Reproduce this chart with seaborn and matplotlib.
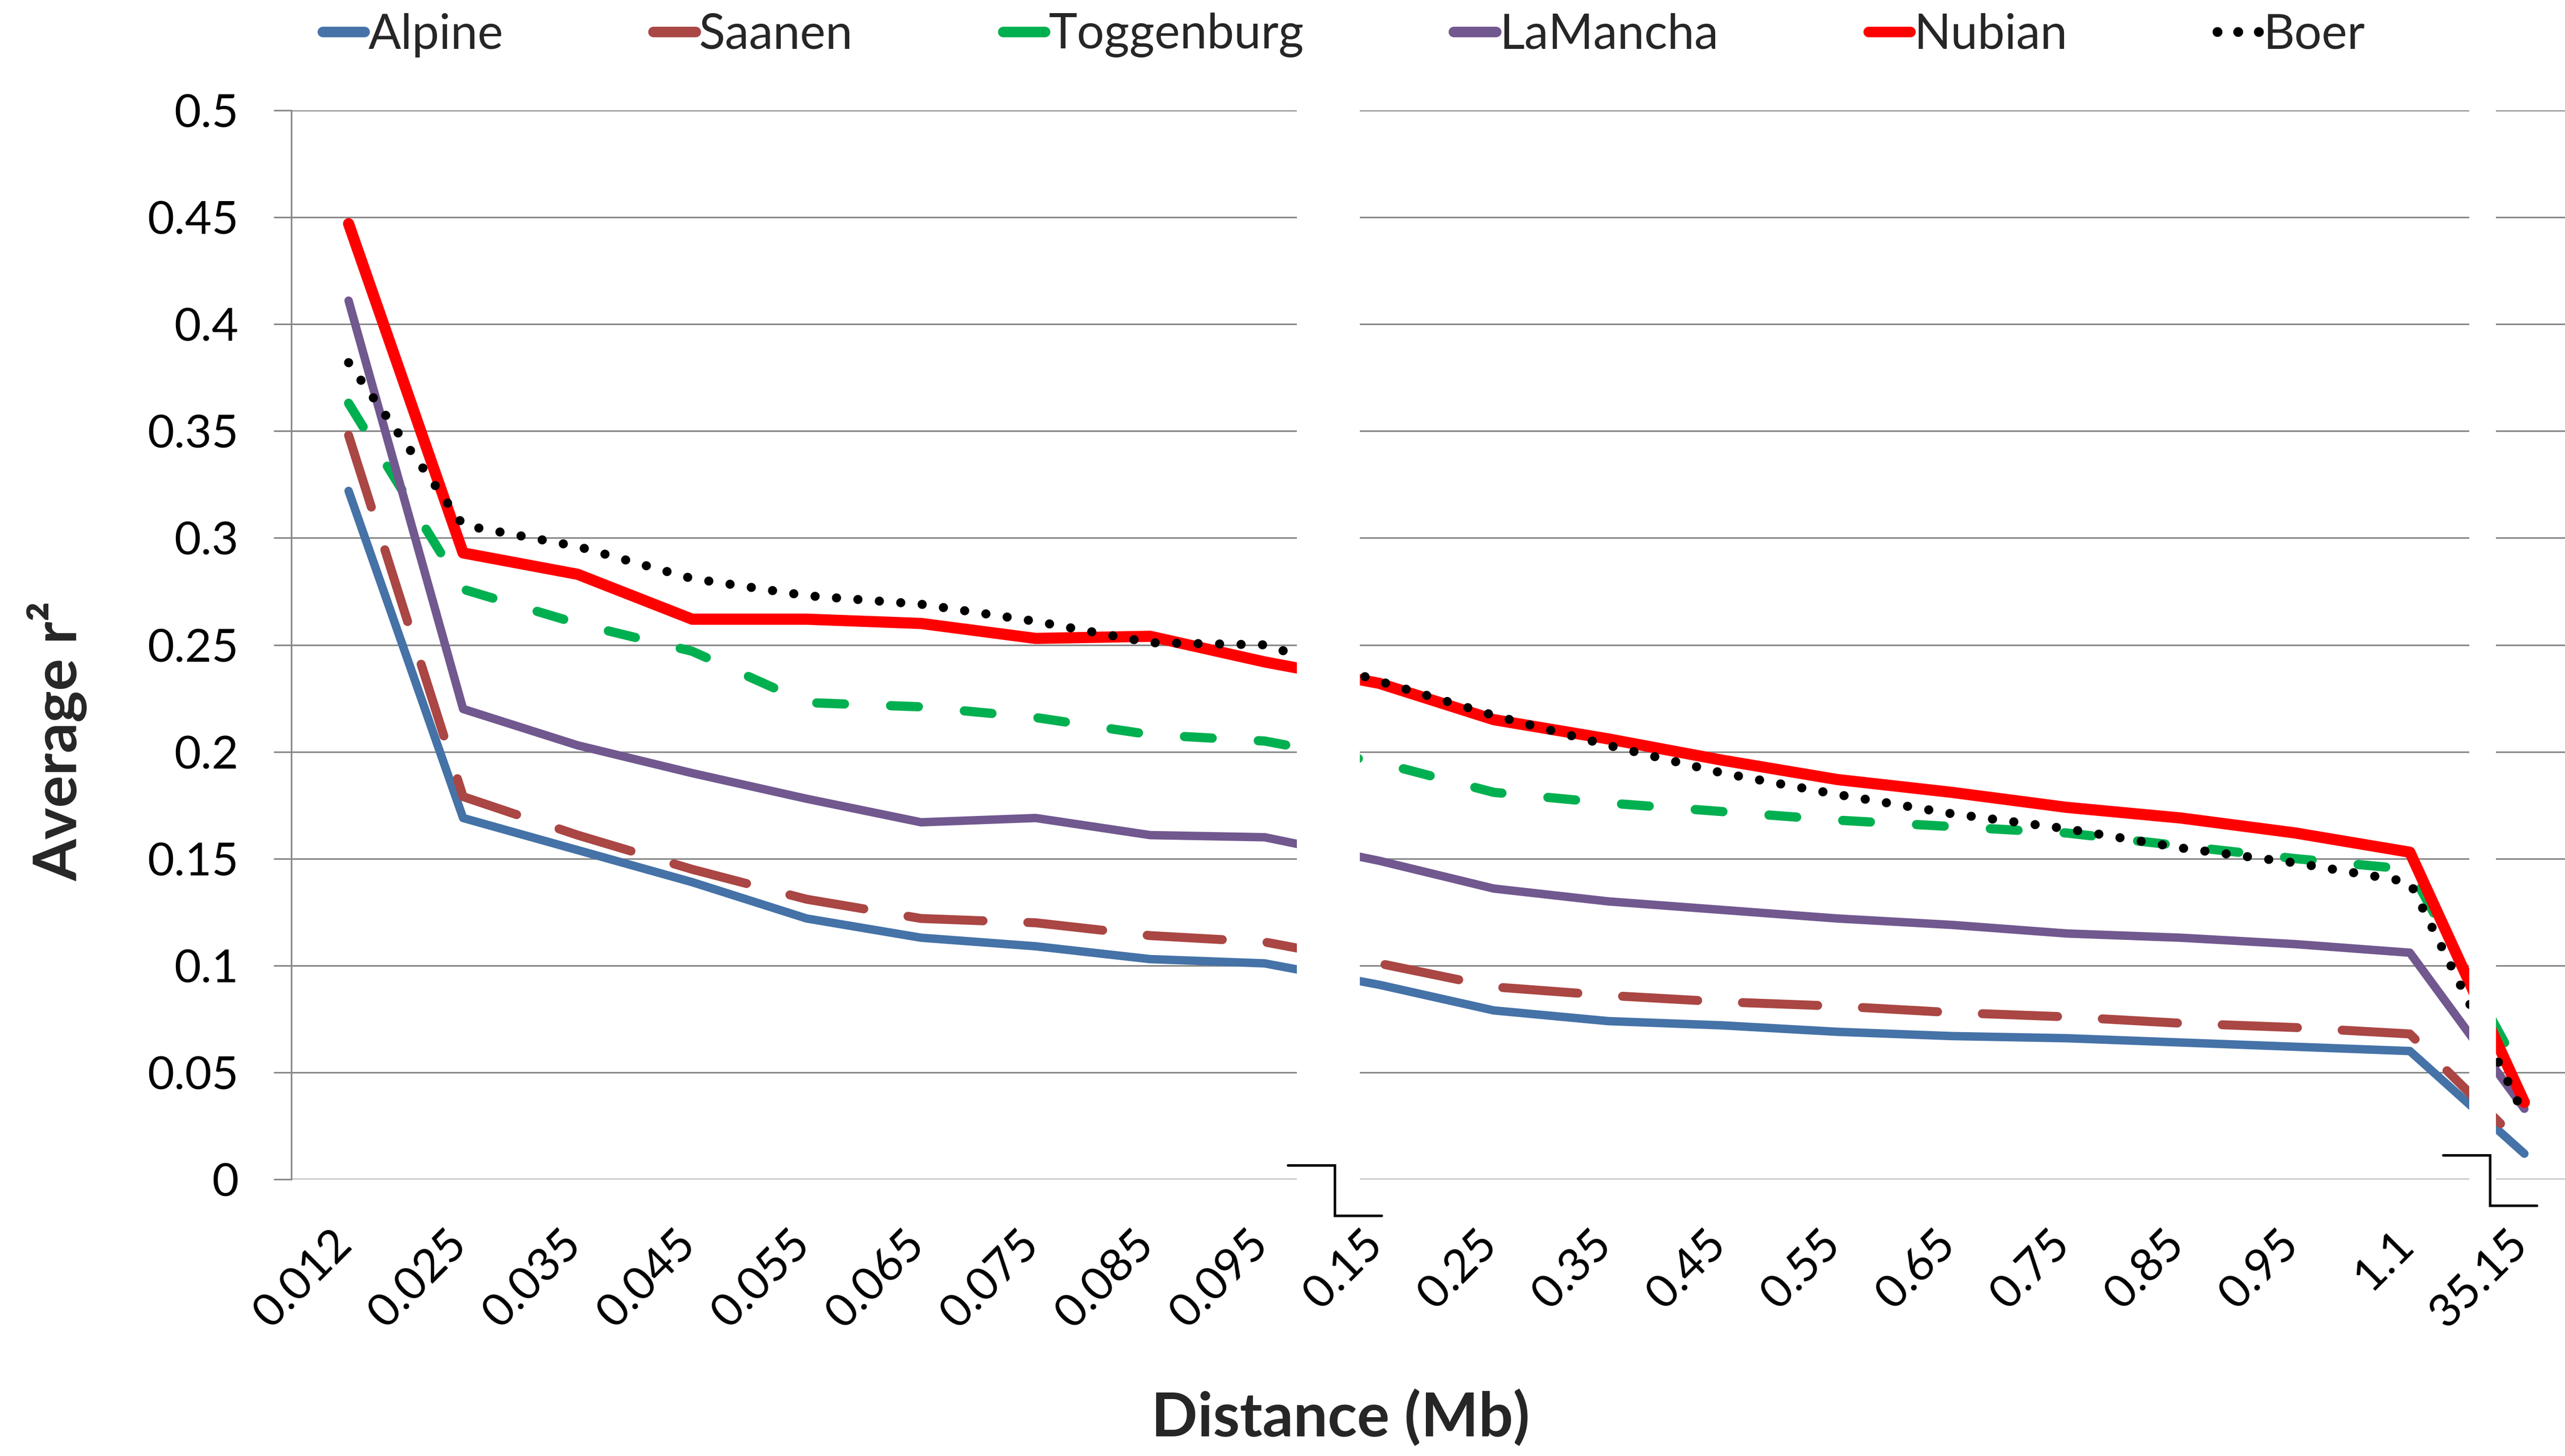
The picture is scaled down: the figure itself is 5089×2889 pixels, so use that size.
import numpy as np
import pandas as pd
import matplotlib
matplotlib.use("Agg")
import matplotlib.pyplot as plt
import matplotlib.transforms as mtransforms
from matplotlib.lines import Line2D
import seaborn as sns

# ---------------- data ----------------
categories = ['0.012', '0.025', '0.035', '0.045', '0.055', '0.065', '0.075', '0.085', '0.095',
              '0.15', '0.25', '0.35', '0.45', '0.55', '0.65', '0.75', '0.85', '0.95', '1.1', '35.15']
alpine = [0.322, 0.169, 0.154, 0.139, 0.122, 0.113, 0.109, 0.103, 0.101,
          0.091, 0.079, 0.074, 0.072, 0.069, 0.067, 0.066, 0.064, 0.062, 0.060, 0.012]
saanen = [0.348, 0.179, 0.161, 0.145, 0.131, 0.122, 0.120, 0.114, 0.111,
          0.101, 0.090, 0.086, 0.083, 0.081, 0.078, 0.076, 0.073, 0.071, 0.068, 0.015]
toggenburg = [0.363, 0.276, 0.260, 0.247, 0.223, 0.221, 0.216, 0.208, 0.205,
              0.195, 0.181, 0.176, 0.172, 0.168, 0.165, 0.162, 0.156, 0.150, 0.145, 0.047]
lamancha = [0.411, 0.220, 0.203, 0.190, 0.178, 0.167, 0.169, 0.161, 0.160,
            0.149, 0.136, 0.130, 0.126, 0.122, 0.119, 0.115, 0.113, 0.110, 0.106, 0.033]
nubian = [0.447, 0.293, 0.283, 0.262, 0.262, 0.260, 0.253, 0.254, 0.242,
          0.232, 0.215, 0.206, 0.196, 0.187, 0.181, 0.174, 0.169, 0.162, 0.153, 0.036]
boer = [0.382, 0.306, 0.296, 0.281, 0.273, 0.269, 0.261, 0.251, 0.250,
        0.233, 0.217, 0.203, 0.190, 0.180, 0.171, 0.164, 0.155, 0.148, 0.139, 0.030]

breeds = ['Alpine', 'Saanen', 'Toggenburg', 'LaMancha', 'Nubian', 'Boer']
series = [alpine, saanen, toggenburg, lamancha, nubian, boer]
yticks = [0, 0.05, 0.1, 0.15, 0.2, 0.25, 0.3, 0.35, 0.4, 0.45, 0.5]

# ---------------- styles ----------------
colors = {'Alpine': '#4572A7', 'Saanen': '#AA4643', 'Toggenburg': '#00B050',
          'LaMancha': '#71588F', 'Nubian': '#FF0000', 'Boer': '#000000'}
widths = {'Alpine': 6.0, 'Saanen': 6.4, 'Toggenburg': 6.6,
          'LaMancha': 6.0, 'Nubian': 8.0, 'Boer': 6.5}
dashes = {'Alpine': None, 'Saanen': (8.4, 5.0), 'Toggenburg': (3.0, 5.0),
          'LaMancha': None, 'Nubian': None, 'Boer': (0.01, 2.35)}

sns.set_theme(style="white")
plt.rcParams['font.family'] = ['Lato', 'DejaVu Sans']

W, H = 5089, 2889
DPI = 200
fig = plt.figure(figsize=(W / DPI, H / DPI), dpi=DPI)
fig.patch.set_facecolor('white')

ax_left, ax_right = 578, 5122
ax_top, ax_bot = 219, 2340
ax = fig.add_axes([ax_left / W, 1 - ax_bot / H, (ax_right - ax_left) / W, (ax_bot - ax_top) / H])
ax.set_facecolor('white')

x_idx = np.arange(len(categories))
df = pd.DataFrame({'x': np.tile(x_idx, len(breeds)),
                   'value': np.concatenate(series),
                   'breed': np.repeat(breeds, len(categories))})

handles = []
for b in breeds:
    sub = df[df['breed'] == b]
    sns.lineplot(data=sub, x='x', y='value', ax=ax, color=colors[b], lw=widths[b],
                 legend=False, zorder=2)
    ln = ax.lines[-1]
    ln.set_solid_capstyle('round')
    ln.set_solid_joinstyle('round')
    ln.set_dash_capstyle('round')
    ln.set_dash_joinstyle('round')
    if dashes[b] is not None:
        ln.set_dashes(dashes[b])
    h = Line2D([0], [0], color=colors[b], lw=7.5 if b != 'Boer' else 7.0,
               solid_capstyle='round', dash_capstyle='round')
    if b == 'Boer':
        h.set_dashes((0.01, 2.1))
    handles.append(h)

ax.set_xlim(-0.5, len(categories) - 0.5)
ax.set_ylim(0, 0.5)

# grid & axes
ax.set_axisbelow(True)
ax.yaxis.grid(True, color='#868686', lw=1.1)
ax.xaxis.grid(False)
for s in ['top', 'right', 'bottom']:
    ax.spines[s].set_visible(False)
ax.spines['left'].set_color('#868686')
ax.spines['left'].set_linewidth(1.1)

ax.set_yticks(yticks)
ax.set_yticklabels([f"{v:g}" for v in yticks])
ax.tick_params(axis='y', length=12.6, width=1.1, color='#868686', pad=25, labelsize=33,
               labelcolor='black', left=True)
ax.set_xticks(x_idx)
ax.set_xticklabels(categories)
ax.tick_params(axis='x', length=0, pad=31, labelsize=33, labelcolor='black')
offset = mtransforms.ScaledTranslation(-13 / 72, 0, fig.dpi_scale_trans)
for lab in ax.get_xticklabels():
    lab.set_rotation(45)
    lab.set_ha('right')
    lab.set_va('top')
    lab.set_rotation_mode('anchor')
    lab.set_transform(lab.get_transform() + offset)
ax.set_xlabel('')
ax.set_ylabel('')

# axis breaks (white gaps)
for (g0, g1) in [(8.28, 8.83), (18.52, 18.75)]:
    ax.axvspan(g0, g1, color='white', zorder=3, lw=0)

# break marks
for (xa, xb, xc, yt, yb) in [(8.20, 8.61, 9.02, 0.0066, -0.017),
                             (18.29, 18.70, 19.11, 0.0113, -0.0123)]:
    ax.plot([xa, xb, xb, xc], [yt, yt, yb, yb], color='black', lw=1.8,
            clip_on=False, zorder=5, solid_joinstyle='miter')

# axis titles
fig.text(2660 / W, 1 - 2814 / H, 'Distance (Mb)', ha='center', va='center',
         fontsize=43.5, fontweight='bold')
fig.text(114 / W, 1 - 1470 / H, 'Average r\u00b2', ha='center', va='center',
         rotation=90, fontsize=43, fontweight='bold')

# legend
fig.legend(handles, breeds, loc='center left', bbox_to_anchor=(640 / W, 1 - 70 / H),
           ncol=6, frameon=False, fontsize=34.5, handlelength=0.87, handletextpad=0.08,
           columnspacing=3.1, borderpad=0, borderaxespad=0)

fig.savefig('out.png', dpi=DPI, facecolor='white')
